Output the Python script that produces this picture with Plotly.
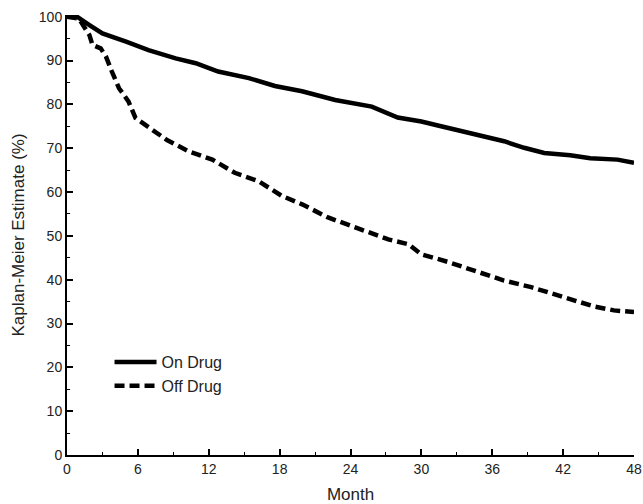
import plotly.graph_objects as go

months_on = [0, 0.85, 1.9, 3.0, 5.0, 6.9, 9.2, 10.9, 12.8, 15.4, 17.6, 19.9, 22.7, 25.8, 28.0,
             30.0, 31.4, 33.9, 35.6, 37.0, 38.7, 40.4, 42.6, 44.3, 46.6, 47.7, 48]
on_drug = [100, 100, 98.1, 96.2, 94.3, 92.4, 90.5, 89.4, 87.5, 86.0, 84.2, 83.0, 81.0, 79.5, 77.0,
           76.1, 75.2, 73.5, 72.3, 71.6, 70.1, 68.9, 68.4, 67.7, 67.4, 66.7, 66.7]

months_off = [0, 1.0, 1.9, 2.15, 2.85, 3.3, 3.8, 4.4, 5.2, 5.8, 6.9, 8.5, 10.3, 12.3, 14.2, 16.2,
              18.2, 19.9, 22.1, 24.4, 27.2, 28.9, 30.0, 32.2, 34.5, 37.0, 39.3, 41.2, 42.9, 44.6,
              46.3, 48]
off_drug = [100, 99.6, 95.8, 93.6, 92.8, 90.9, 87.5, 83.7, 80.7, 76.9, 74.8, 71.8, 69.3, 67.4, 64.4,
            62.5, 59.1, 57.2, 54.2, 51.9, 49.2, 48.1, 45.8, 44.1, 42.0, 39.8, 38.3, 36.7, 35.2, 33.9,
            33.0, 32.6]

x_ticks = [0, 6, 12, 18, 24, 30, 36, 42, 48]
y_ticks = [0, 10, 20, 30, 40, 50, 60, 70, 80, 90, 100]

FONT = "Liberation Sans, Arial, sans-serif"

fig = go.Figure()
fig.add_trace(go.Scatter(x=months_on, y=on_drug, mode="lines", name="On Drug",
                         line=dict(color="black", width=4.5)))
fig.add_trace(go.Scatter(x=months_off, y=off_drug, mode="lines", name="Off Drug",
                         line=dict(color="black", width=4.5, dash="10px,5px")))

axis_common = dict(showgrid=False, zeroline=False, showline=True, linecolor="black", linewidth=2,
                   ticks="inside", ticklen=6, tickwidth=1.5, tickcolor="black",
                   ticklabeloverflow="allow", automargin=False,
                   tickfont=dict(family=FONT, size=14, color="#222"))

fig.update_xaxes(range=[0, 48], tickvals=x_ticks, ticktext=[str(v) for v in x_ticks],
                 minor=dict(ticks="inside", ticklen=3, tickwidth=1, dtick=3, tick0=0, tickcolor="black"),
                 title=dict(text="Month", font=dict(family=FONT, size=17, color="#222"), standoff=13),
                 **axis_common)
fig.update_yaxes(range=[0, 100.4], tickvals=y_ticks, ticktext=[str(v) for v in y_ticks],
                 minor=dict(ticks="inside", ticklen=3, tickwidth=1, dtick=5, tick0=0, tickcolor="black"),
                 title=dict(text="Kaplan-Meier Estimate (%)", font=dict(family=FONT, size=17, color="#222"),
                            standoff=10),
                 **axis_common)

fig.update_layout(
    width=643, height=504,
    margin=dict(l=67, r=9, t=15, b=49),
    plot_bgcolor="white", paper_bgcolor="white",
    showlegend=True,
    legend=dict(x=0.075, y=0.25, xanchor="left", yanchor="top", bgcolor="rgba(0,0,0,0)",
                font=dict(family=FONT, size=16, color="#222"), itemwidth=42,
                tracegroupgap=0),
)

fig.write_html("out.html")
